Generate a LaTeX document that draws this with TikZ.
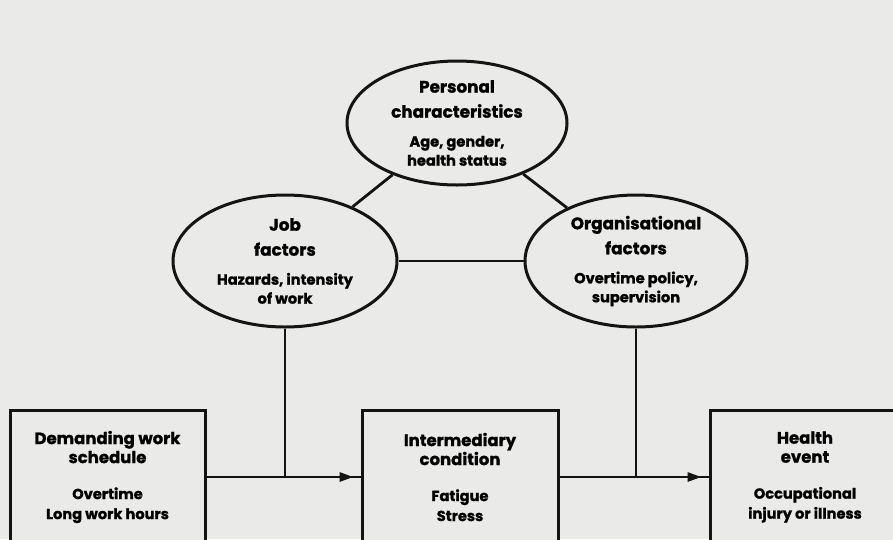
\documentclass[tikz,border=0pt]{standalone}
\usepackage{fontspec}
\setmainfont{Poppins}[BoldFeatures={FakeBold=1.2}]
\usetikzlibrary{shapes.geometric,arrows.meta,decorations.markings}
\definecolor{paper}{RGB}{234,234,232}
\definecolor{ink}{RGB}{20,20,20}
\newcommand{\subtxt}{\fontsize{14.6}{18}\selectfont}
\tikzset{
  oval/.style={ellipse, draw=ink, line width=3pt, fill=paper, align=center,
    font=\fontsize{16.8}{25}\selectfont\bfseries, inner sep=0pt},
  stepbox/.style={rectangle, draw=ink, line width=3pt, fill=paper, align=center,
    font=\fontsize{16.5}{19}\selectfont\bfseries, inner sep=0pt},
  link/.style={draw=ink, line width=2.8pt},
  flow/.style={draw=ink, line width=2.8pt, postaction={decorate},
    decoration={markings, mark=at position -7pt with {\arrow{Triangle[length=14pt,width=9pt]}}}}
}
\begin{document}
\begin{tikzpicture}[x=1pt,y=-1pt]
\useasboundingbox (0,0) rectangle (893,539);
\clip (0,0) rectangle (893,539);
\fill[paper] (0,0) rectangle (893,539);
% ellipses
\node[oval, minimum width=220pt, minimum height=124pt] (pers) at (457,123)
  {Personal\\characteristics\\[4pt]{\subtxt Age, gender,}\\[-6pt]{\subtxt health status}};
\node[oval, minimum width=224pt, minimum height=132pt] (job) at (285,261)
  {Job\\factors\\[4pt]{\subtxt Hazards, intensity}\\[-6pt]{\subtxt of work}};
\node[oval, minimum width=222pt, minimum height=132pt] (org) at (636,261)
  {Organisational\\factors\\[4pt]{\subtxt Overtime policy,}\\[-6pt]{\subtxt supervision}};
% boxes
\node[stepbox, minimum width=195pt, minimum height=134pt] (dem) at (107.5,477)
  {Demanding work\\schedule\\[17pt]{\subtxt Overtime}\\[1pt]{\subtxt Long work hours}};
\node[stepbox, minimum width=196pt, minimum height=134pt] (int) at (460,477)
  {Intermediary\\condition\\[17pt]{\subtxt Fatigue}\\[1pt]{\subtxt Stress}};
\node[stepbox, minimum width=190pt, minimum height=134pt] (hea) at (805,477)
  {Health\\event\\[17pt]{\subtxt Occupational}\\[1pt]{\subtxt injury or illness}};
% connectors
\draw[link] (pers) -- (job);
\draw[link] (pers) -- (org);
\draw[link] (job) -- (org);
\draw[flow] (dem.east) -- (int.west);
\draw[flow] (int.east) -- (hea.west);
\draw[link] (job.south) -- (job.south |- dem.east);
\draw[link] (org.south) -- (org.south |- int.east);
\end{tikzpicture}
\end{document}
